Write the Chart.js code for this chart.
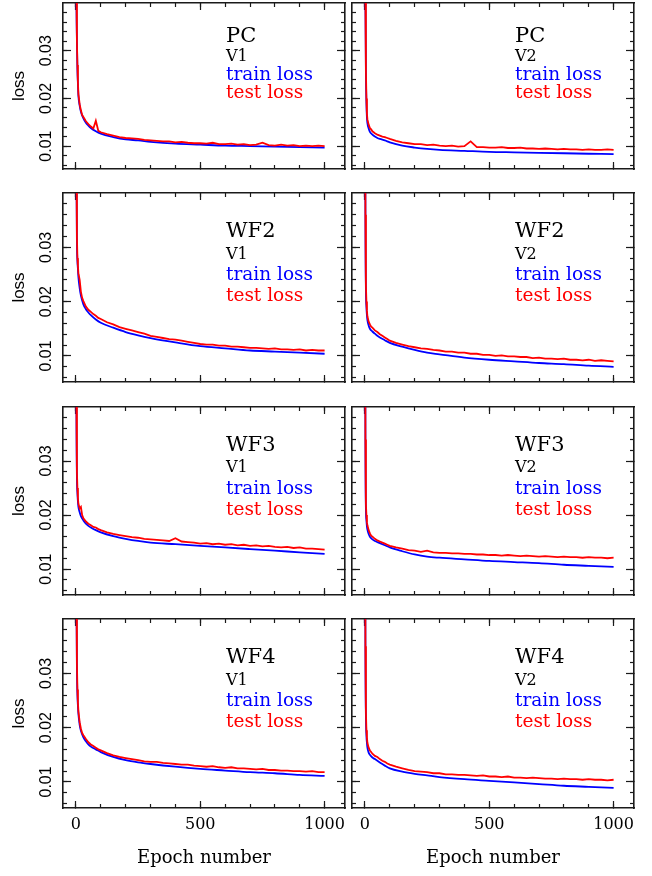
<!DOCTYPE html>
<html>
<head>
<meta charset="utf-8">
<script src="https://cdn.jsdelivr.net/npm/chart.js@4.4.1/dist/chart.umd.min.js"></script>
<style>
  body { margin: 0; background: #fff; }
  #wrap { position: relative; width: 652px; height: 876px; overflow: hidden; }
  #wrap canvas { position: absolute; }
</style>
</head>
<body>
<div id="wrap"></div>
<script>
const TRAIN_EPOCHS = [0, 2, 4, 6, 8, 10, 15, 20, 30, 40, 50, 60, 80, 100, 150, 200, 250, 300, 400, 500, 600, 700, 800, 900, 1000];
const TEST_EPOCHS = [0, 2, 4, 6, 8, 10, 15, 20, 25, 30, 40, 50, 60, 70, 80, 90, 100,
  125, 150, 175, 200, 225, 250, 275, 300, 325, 350, 375, 400, 425, 450, 475, 500,
  525, 550, 575, 600, 625, 650, 675, 700, 725, 750, 775, 800, 825, 850, 875, 900, 925, 950, 975, 1000];

// tick positions
const X_MAJOR = [0, 500, 1000];
const X_MINOR = [0, 100, 200, 300, 400, 500, 600, 700, 800, 900, 1000];
const Y_MAJOR = [0.01, 0.02, 0.03];
const Y_MINOR = [0.006, 0.008, 0.010, 0.012, 0.014, 0.016, 0.018, 0.020, 0.022, 0.024, 0.026, 0.028, 0.030, 0.032, 0.034, 0.036, 0.038];

const pcV1Train = [0.080, 0.042, 0.032, 0.026, 0.023, 0.0205, 0.0185, 0.0172, 0.0158, 0.0149, 0.0143, 0.0138, 0.0131, 0.0126, 0.0119, 0.0114, 0.0112, 0.0109, 0.0105, 0.0103, 0.0101, 0.0100, 0.0099, 0.0098, 0.0097];
const pcV1Test = [0.080, 0.043, 0.032, 0.027, 0.0234, 0.0209, 0.0188, 0.0175, 0.0165, 0.0161, 0.0152, 0.0146, 0.0141, 0.0137, 0.0153, 0.0132, 0.0129,
  0.0125, 0.0122, 0.0119, 0.0117, 0.0116, 0.0115, 0.0113, 0.0112, 0.0111, 0.0110, 0.0110, 0.0108, 0.0109, 0.0107, 0.0106, 0.0106,
  0.0105, 0.0107, 0.0104, 0.0104, 0.0105, 0.0103, 0.0104, 0.0102, 0.0103, 0.0107, 0.0102, 0.0101, 0.0103, 0.0101, 0.0102, 0.0100, 0.0101, 0.0100, 0.0101, 0.0100];

const pcV2Train = [0.080, 0.040, 0.025, 0.019, 0.0160, 0.0148, 0.0137, 0.0130, 0.0124, 0.0120, 0.0117, 0.0115, 0.0112, 0.0108, 0.0101, 0.0097, 0.0094, 0.0092, 0.0090, 0.0088, 0.0087, 0.0086, 0.0085, 0.0084, 0.0083];
const pcV2Test = [0.080, 0.041, 0.026, 0.020, 0.0168, 0.0156, 0.0145, 0.0138, 0.0135, 0.0131, 0.0127, 0.0124, 0.0122, 0.0120, 0.0119, 0.0117, 0.0115,
  0.0111, 0.0108, 0.0106, 0.0104, 0.0104, 0.0102, 0.0103, 0.0101, 0.0100, 0.0101, 0.0099, 0.0100, 0.0110, 0.0098, 0.0098, 0.0097,
  0.0097, 0.0098, 0.0096, 0.0096, 0.0097, 0.0095, 0.0095, 0.0094, 0.0095, 0.0094, 0.0093, 0.0094, 0.0093, 0.0093, 0.0092, 0.0093, 0.0092, 0.0092, 0.0093, 0.0092];

const wf2V1Train = [0.090, 0.045, 0.031, 0.0275, 0.026, 0.0245, 0.0225, 0.0211, 0.0195, 0.0186, 0.0180, 0.0175, 0.0167, 0.0161, 0.0152, 0.0144, 0.0138, 0.0133, 0.0125, 0.0118, 0.0114, 0.0110, 0.0108, 0.0106, 0.0104];
const wf2V1Test = [0.090, 0.046, 0.032, 0.028, 0.0266, 0.0252, 0.0240, 0.0218, 0.0207, 0.0201, 0.0191, 0.0185, 0.0181, 0.0177, 0.0174, 0.0170, 0.0168,
  0.0162, 0.0158, 0.0153, 0.0150, 0.0147, 0.0144, 0.0141, 0.0137, 0.0135, 0.0133, 0.0131, 0.0130, 0.0128, 0.0126, 0.0124, 0.0122,
  0.0121, 0.0121, 0.0119, 0.0119, 0.0117, 0.0117, 0.0116, 0.0115, 0.0115, 0.0114, 0.0113, 0.0114, 0.0112, 0.0112, 0.0111, 0.0112, 0.0110, 0.0111, 0.0110, 0.0110];

const wf2V2Train = [0.090, 0.035, 0.022, 0.019, 0.0175, 0.0166, 0.0156, 0.0150, 0.0145, 0.0141, 0.0137, 0.0134, 0.0129, 0.0124, 0.0117, 0.0111, 0.0106, 0.0103, 0.0097, 0.0093, 0.0090, 0.0087, 0.0085, 0.0082, 0.0080];
const wf2V2Test = [0.090, 0.036, 0.023, 0.020, 0.0183, 0.0173, 0.0163, 0.0158, 0.0154, 0.0152, 0.0147, 0.0144, 0.0140, 0.0137, 0.0134, 0.0131, 0.0128,
  0.0124, 0.0121, 0.0118, 0.0116, 0.0114, 0.0113, 0.0111, 0.0110, 0.0108, 0.0108, 0.0106, 0.0106, 0.0104, 0.0104, 0.0102, 0.0102,
  0.0100, 0.0101, 0.0099, 0.0099, 0.0098, 0.0098, 0.0096, 0.0097, 0.0095, 0.0095, 0.0094, 0.0095, 0.0093, 0.0093, 0.0092, 0.0093, 0.0091, 0.0092, 0.0091, 0.0090];

const wf3V1Train = [0.090, 0.040, 0.027, 0.024, 0.0225, 0.0215, 0.0205, 0.0198, 0.0190, 0.0184, 0.0180, 0.0177, 0.0172, 0.0168, 0.0161, 0.0156, 0.0152, 0.0149, 0.0146, 0.0143, 0.0140, 0.0137, 0.0134, 0.0131, 0.0128];
const wf3V1Test = [0.090, 0.041, 0.028, 0.025, 0.0232, 0.0221, 0.0212, 0.0215, 0.0200, 0.0194, 0.0188, 0.0184, 0.0181, 0.0178, 0.0177, 0.0174, 0.0172,
  0.0168, 0.0165, 0.0163, 0.0161, 0.0159, 0.0158, 0.0156, 0.0155, 0.0154, 0.0153, 0.0152, 0.0157, 0.0151, 0.0150, 0.0149, 0.0147,
  0.0148, 0.0146, 0.0147, 0.0145, 0.0146, 0.0144, 0.0145, 0.0143, 0.0144, 0.0142, 0.0143, 0.0141, 0.0140, 0.0141, 0.0139, 0.0140, 0.0138, 0.0138, 0.0137, 0.0136];

const wf3V2Train = [0.090, 0.033, 0.021, 0.019, 0.0179, 0.0173, 0.0165, 0.0160, 0.0155, 0.0152, 0.0150, 0.0148, 0.0144, 0.0140, 0.0133, 0.0127, 0.0123, 0.0121, 0.0118, 0.0115, 0.0113, 0.0111, 0.0108, 0.0106, 0.0104];
const wf3V2Test = [0.090, 0.034, 0.022, 0.020, 0.0187, 0.0181, 0.0172, 0.0166, 0.0162, 0.0160, 0.0156, 0.0153, 0.0151, 0.0149, 0.0147, 0.0145, 0.0143,
  0.0140, 0.0138, 0.0135, 0.0134, 0.0132, 0.0134, 0.0131, 0.0130, 0.0130, 0.0129, 0.0129, 0.0128, 0.0128, 0.0127, 0.0127, 0.0126,
  0.0126, 0.0125, 0.0126, 0.0125, 0.0124, 0.0125, 0.0124, 0.0123, 0.0124, 0.0123, 0.0122, 0.0123, 0.0122, 0.0122, 0.0121, 0.0122, 0.0121, 0.0121, 0.0120, 0.0121];

const wf4V1Train = [0.090, 0.045, 0.031, 0.026, 0.024, 0.0225, 0.0205, 0.0194, 0.0182, 0.0175, 0.0169, 0.0165, 0.0160, 0.0155, 0.0146, 0.0140, 0.0136, 0.0133, 0.0128, 0.0124, 0.0121, 0.0118, 0.0116, 0.0113, 0.0111];
const wf4V1Test = [0.090, 0.046, 0.032, 0.027, 0.0246, 0.0230, 0.0210, 0.0198, 0.0190, 0.0186, 0.0179, 0.0173, 0.0169, 0.0166, 0.0163, 0.0160, 0.0158,
  0.0153, 0.0149, 0.0146, 0.0144, 0.0142, 0.0140, 0.0138, 0.0137, 0.0137, 0.0135, 0.0134, 0.0133, 0.0132, 0.0132, 0.0130, 0.0129,
  0.0128, 0.0129, 0.0127, 0.0126, 0.0127, 0.0125, 0.0125, 0.0124, 0.0123, 0.0124, 0.0122, 0.0122, 0.0121, 0.0121, 0.0120, 0.0120, 0.0119, 0.0120, 0.0118, 0.0118];

const wf4V2Train = [0.090, 0.034, 0.022, 0.0185, 0.0172, 0.0163, 0.0154, 0.0150, 0.0145, 0.0142, 0.0139, 0.0136, 0.0130, 0.0125, 0.0119, 0.0115, 0.0112, 0.0109, 0.0105, 0.0102, 0.0099, 0.0096, 0.0093, 0.0091, 0.0089];
const wf4V2Test = [0.090, 0.035, 0.023, 0.0195, 0.0182, 0.0172, 0.0163, 0.0158, 0.0155, 0.0152, 0.0148, 0.0146, 0.0142, 0.0139, 0.0137, 0.0134, 0.0132,
  0.0128, 0.0125, 0.0122, 0.0120, 0.0119, 0.0118, 0.0116, 0.0116, 0.0114, 0.0114, 0.0113, 0.0113, 0.0112, 0.0111, 0.0112, 0.0110,
  0.0110, 0.0109, 0.0110, 0.0108, 0.0108, 0.0107, 0.0108, 0.0107, 0.0106, 0.0106, 0.0105, 0.0106, 0.0105, 0.0105, 0.0104, 0.0105, 0.0104, 0.0104, 0.0103, 0.0104];

// panels, row by row (left = V1, right = V2)
const panelNames = ['PC', 'PC', 'WF2', 'WF2', 'WF3', 'WF3', 'WF4', 'WF4'];
const panelVersions = ['V1', 'V2', 'V1', 'V2', 'V1', 'V2', 'V1', 'V2'];
const trainSeries = [pcV1Train, pcV2Train, wf2V1Train, wf2V2Train, wf3V1Train, wf3V2Train, wf4V1Train, wf4V2Train];
const testSeries = [pcV1Test, pcV2Test, wf2V1Test, wf2V2Test, wf3V1Test, wf3V2Test, wf4V1Test, wf4V2Test];
const legendLabels = ['train loss', 'test loss'];
const xTitle = 'Epoch number';
const yTitle = 'loss';

const X_MIN = -52, X_MAX = 1082, Y_MIN = 0.0052, Y_MAX = 0.0400;
const INK = '#1a1a1a';
const BLUE = '#0000ff', RED = '#ff0000';
const SERIF = "'DejaVu Serif', serif";
const SANS = "'Liberation Sans', Arial, sans-serif";

// canvas placement on the page
const cols = [
  { left: 0, width: 349, padL: 0, padR: 4, yW: 63 },
  { left: 349, width: 303, padL: 3, padR: 18, yW: 0 }
];
const rows = [
  { top: 0, height: 181, padT: 3, padB: 12, xH: 0 },
  { top: 181, height: 213, padT: 12, padB: 12, xH: 0 },
  { top: 394, height: 213, padT: 13, padB: 12, xH: 0 },
  { top: 607, height: 269, padT: 12, padB: 0, xH: 68 }
];

const toPoints = (xs, ys) => xs.map((x, i) => ({ x: x, y: ys[i] }));

const panelText = {
  id: 'panelText',
  afterDraw(chart, args, opts) {
    const { ctx, chartArea: a } = chart;
    const x = a.left + 0.578 * (a.right - a.left);
    const h = a.bottom - a.top;
    ctx.save();
    ctx.textAlign = 'left';
    ctx.textBaseline = 'alphabetic';
    opts.lines.forEach(l => {
      ctx.font = l.font;
      ctx.fillStyle = l.color;
      ctx.fillText(l.text, x, a.top + l.fy * h);
    });
    ctx.restore();
  }
};

function fixedSize(size) {
  return s => {
    if (s.isHorizontal()) s.height = size; else s.width = size;
    s.paddingTop = s.paddingBottom = s.paddingLeft = s.paddingRight = 0;
  };
}

function axis(dir, position, tickValues, tickLen, weight, size, withBorder) {
  return {
    type: 'linear', axis: dir, position: position, weight: weight,
    min: dir === 'x' ? X_MIN : Y_MIN,
    max: dir === 'x' ? X_MAX : Y_MAX,
    afterBuildTicks: s => { s.ticks = tickValues.map(v => ({ value: v })); },
    afterFit: fixedSize(size),
    grid: { drawOnChartArea: false, drawTicks: true, tickLength: -tickLen, tickColor: INK, tickWidth: 1.2 },
    border: { display: withBorder, color: INK, width: 1.6 },
    ticks: { display: false, autoSkip: false },
    title: { display: false }
  };
}

function makeScales(col, row) {
  const c = cols[col], r = rows[row];
  const s = {
    x: axis('x', 'bottom', X_MAJOR, 7, 10, r.xH, true),
    xMinor: axis('x', 'bottom', X_MINOR, 4, 0, 0, false),
    xTop: axis('x', 'top', X_MAJOR, 7, 10, 0, true),
    xTopMinor: axis('x', 'top', X_MINOR, 4, 0, 0, false),
    y: axis('y', 'left', Y_MAJOR, 8, 10, c.yW, true),
    yMinor: axis('y', 'left', Y_MINOR, 4, 0, 0, false),
    yRight: axis('y', 'right', Y_MAJOR, 8, 10, 0, true),
    yRightMinor: axis('y', 'right', Y_MINOR, 4, 0, 0, false)
  };
  if (r.xH > 0) {
    Object.assign(s.x.ticks, {
      display: true, color: '#000', padding: 14,
      font: { family: SERIF, size: 16 },
      callback: v => String(v)
    });
    s.x.title = {
      display: true, text: xTitle, color: '#000',
      font: { family: SERIF, size: 18 },
      padding: { top: 0, bottom: 7 }
    };
  }
  if (c.yW > 0) {
    Object.assign(s.y.ticks, {
      display: true, color: '#000', padding: 9,
      minRotation: 90, maxRotation: 90, crossAlign: 'center',
      font: { family: SANS, size: 16 },
      callback: v => v.toFixed(2)
    });
    s.y.title = {
      display: true, text: yTitle, color: '#000',
      font: { family: SANS, size: 17 },
      padding: { top: 9, bottom: 0 }
    };
  }
  return s;
}

const wrap = document.getElementById('wrap');
for (let i = 0; i < 8; i++) {
  const row = Math.floor(i / 2), col = i % 2;
  const c = cols[col], r = rows[row];
  const canvas = document.createElement('canvas');
  canvas.width = c.width;
  canvas.height = r.height;
  canvas.style.left = c.left + 'px';
  canvas.style.top = r.top + 'px';
  canvas.style.width = c.width + 'px';
  canvas.style.height = r.height + 'px';
  wrap.appendChild(canvas);

  new Chart(canvas, {
    type: 'line',
    data: {
      datasets: [
        {
          label: legendLabels[1],
          data: toPoints(TEST_EPOCHS, testSeries[i]),
          borderColor: RED, borderWidth: 1.8, pointRadius: 0, tension: 0,
          xAxisID: 'x', yAxisID: 'y', order: 0
        },
        {
          label: legendLabels[0],
          data: toPoints(TRAIN_EPOCHS, trainSeries[i]),
          borderColor: BLUE, borderWidth: 1.8, pointRadius: 0,
          cubicInterpolationMode: 'monotone',
          xAxisID: 'x', yAxisID: 'y', order: 1
        }
      ]
    },
    options: {
      responsive: false,
      animation: false,
      devicePixelRatio: 1,
      layout: { padding: { left: c.padL, right: c.padR, top: r.padT, bottom: r.padB } },
      scales: makeScales(col, row),
      plugins: {
        legend: { display: false },
        tooltip: { enabled: false },
        panelText: {
          lines: [
            { text: panelNames[i], fy: 0.232, font: '21px ' + SERIF, color: '#000' },
            { text: panelVersions[i], fy: 0.347, font: '16px ' + SERIF, color: '#000' },
            { text: legendLabels[0], fy: 0.462, font: '18.5px ' + SERIF, color: BLUE },
            { text: legendLabels[1], fy: 0.574, font: '18.5px ' + SERIF, color: RED }
          ]
        }
      }
    },
    plugins: [panelText]
  });
}
</script>
</body>
</html>
